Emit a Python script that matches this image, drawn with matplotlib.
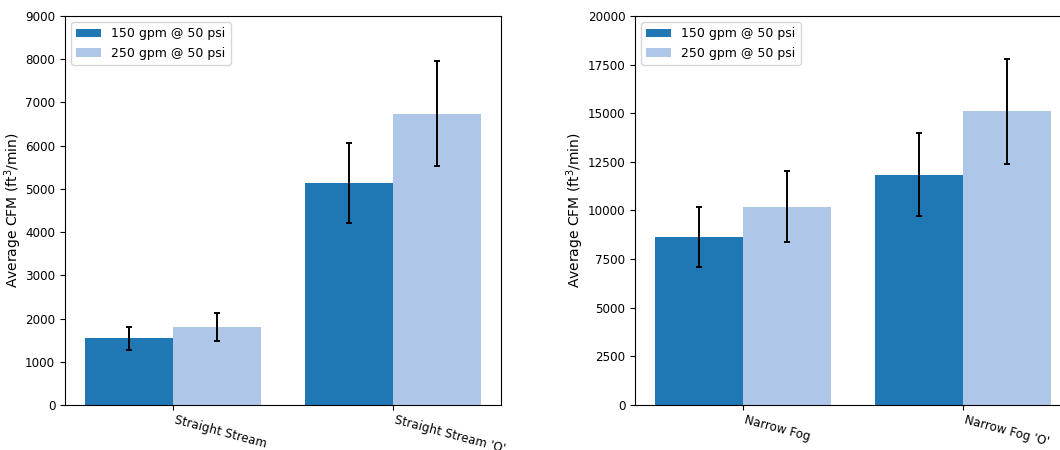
import matplotlib
matplotlib.use('Agg')
import matplotlib.pyplot as plt
import numpy as np

# average flow per nozzle pattern, two flow settings
series_labels = ['150 gpm @ 50 psi', '250 gpm @ 50 psi']
colors = ['#1f77b4', '#aec7e8']

stream_names = ['Straight Stream', "Straight Stream 'O'"]
stream_150 = [1540, 5140]
stream_150_err = [270, 920]
stream_250 = [1805, 6740]
stream_250_err = [325, 1210]

fog_names = ['Narrow Fog', "Narrow Fog 'O'"]
fog_150 = [8640, 11840]
fog_150_err = [1545, 2125]
fog_250 = [10190, 15090]
fog_250_err = [1825, 2700]

fig = plt.figure(figsize=(10.6, 4.5), dpi=100)
ax1 = fig.add_axes([65/1060, 45/450, 436/1060, 389/450])
ax2 = fig.add_axes([635/1060, 45/450, 436/1060, 389/450])

width = 0.4
ekw = dict(elinewidth=1.4, capthick=1.4)


def draw(ax, names, a, a_err, b, b_err, ymax, step, label_x):
    x = np.arange(len(names))
    ax.bar(x - width/2, a, width, yerr=a_err, capsize=2.3, color=colors[0],
           ecolor='k', error_kw=ekw, label=series_labels[0])
    ax.bar(x + width/2, b, width, yerr=b_err, capsize=2.3, color=colors[1],
           ecolor='k', error_kw=ekw, label=series_labels[1])
    ax.set_xticks(x)
    ax.set_xticklabels(names, rotation=-15, ha='left', fontsize=8.6)
    ax.tick_params(axis='x', pad=2.5)
    ax.set_ylim(0, ymax)
    ax.set_yticks(np.arange(0, ymax + 1, step))
    ax.tick_params(axis='y', labelsize=8.6)
    ax.set_xlim(-0.49, 1.49)
    ax.set_ylabel('Average CFM (ft$^3$/min)', fontsize=10)
    ax.yaxis.set_label_coords(label_x, 0.5)
    ax.legend(loc='upper left', fontsize=9)


draw(ax1, stream_names, stream_150, stream_150_err, stream_250, stream_250_err, 9000, 1000, -0.095)
draw(ax2, fog_names, fog_150, fog_150_err, fog_250, fog_250_err, 20000, 2500, -0.113)

fig.savefig('out.png', dpi=100)
